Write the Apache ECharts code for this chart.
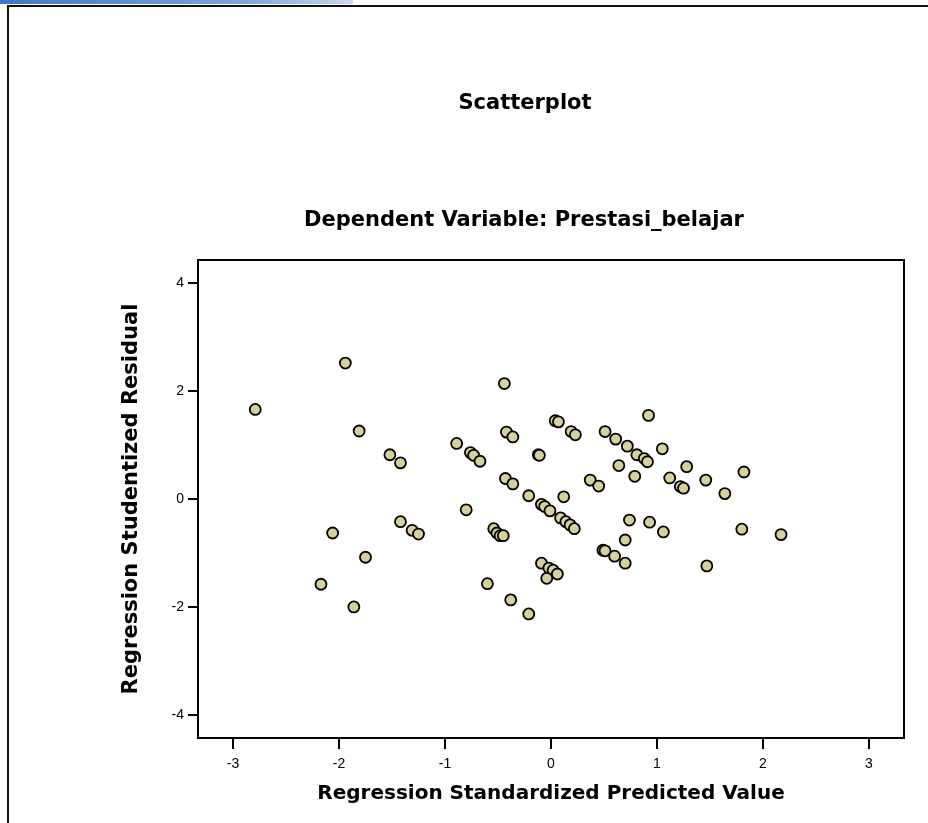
<!DOCTYPE html>
<html>
<head>
<meta charset="utf-8">
<script src="https://cdn.jsdelivr.net/npm/echarts@6/dist/echarts.min.js"></script>
<style>
  html, body { margin: 0; padding: 0; background: #fff; }
  #main { width: 928px; height: 823px; }
</style>
</head>
<body>
<div id="main"></div>
<script>
  // regression standardized predicted value (x) / studentized residual (y)
  var predicted = [
    -1.94, -2.79, -1.81, -2.06, -1.75, -2.17, -1.86,
    -0.44, -0.42, -0.36, -1.52, -1.42, -0.89, -0.76, -0.73, -0.67, -0.43, -0.36, -0.21,
    -1.42, -1.31, -1.25, -0.80, -0.54, -0.51, -0.48, -0.45, -0.60, -0.38, -0.21,
    0.04, 0.07, 0.19, 0.23, -0.12, -0.11, 0.51, 0.61, 0.72, 0.81, 0.88, 0.91, 0.92, 1.05,
    0.64, 0.79, 0.37, 0.45, 0.12, -0.09, -0.06, -0.01, 0.09, 0.14, 0.18, 0.22,
    0.74, 0.93, 1.06, 0.70, 0.49, 0.51, 0.60, 0.70, -0.09, -0.02, 0.02, 0.06, -0.04,
    1.28, 1.12, 1.22, 1.25, 1.46, 1.64, 1.82, 1.80, 2.17, 1.47
  ];
  var residual = [
    2.52, 1.66, 1.26, -0.63, -1.08, -1.58, -2.00,
    2.14, 1.24, 1.15, 0.82, 0.67, 1.03, 0.86, 0.81, 0.70, 0.38, 0.28, 0.06,
    -0.42, -0.58, -0.65, -0.20, -0.55, -0.63, -0.68, -0.68, -1.57, -1.87, -2.13,
    1.45, 1.43, 1.25, 1.19, 0.82, 0.81, 1.25, 1.11, 0.98, 0.82, 0.75, 0.69, 1.55, 0.93,
    0.62, 0.42, 0.35, 0.24, 0.04, -0.10, -0.14, -0.22, -0.35, -0.42, -0.48, -0.55,
    -0.39, -0.43, -0.61, -0.76, -0.95, -0.96, -1.06, -1.19, -1.19, -1.28, -1.32, -1.39, -1.47,
    0.60, 0.39, 0.23, 0.20, 0.35, 0.10, 0.50, -0.56, -0.66, -1.24
  ];
  var xTicks = [-3, -2, -1, 0, 1, 2, 3];
  var yTicks = [-4, -2, 0, 2, 4];

  var points = predicted.map(function (v, i) { return [v, residual[i]]; });

  var myChart = echarts.init(document.getElementById('main'));
  var titleFont = 'DejaVu Sans, Verdana, sans-serif';
  var tickFont = 'Liberation Sans, Arial, sans-serif';

  myChart.setOption({
    animation: false,
    backgroundColor: '#fff',
    // 标题
    title: [
      {
        text: 'Scatterplot',
        left: 520, top: 88, textAlign: 'center',
        textStyle: { fontFamily: titleFont, fontSize: 21, fontWeight: 'bold', color: '#000' }
      },
      {
        text: 'Dependent Variable: Prestasi_belajar',
        left: 519, top: 205, textAlign: 'center',
        textStyle: { fontFamily: titleFont, fontSize: 21, fontWeight: 'bold', color: '#000' }
      }
    ],
    // 外框 + 左上角蓝条
    graphic: [
      {
        type: 'rect', shape: { x: 0, y: 0, width: 353, height: 4 },
        style: {
          fill: new echarts.graphic.LinearGradient(0, 0, 1, 0, [
            { offset: 0, color: '#3f78c8' },
            { offset: 0.7, color: '#7fa6da' },
            { offset: 1, color: '#c9d8ec' }
          ])
        }
      },
      {
        type: 'polyline',
        shape: { points: [[8, 823], [8, 6], [928, 6]] },
        style: { stroke: '#111', lineWidth: 2, fill: null }
      }
    ],
    grid: {
      left: 198, top: 260, width: 706, height: 478,
      show: true, borderColor: '#000', borderWidth: 2,
      containLabel: false
    },
    xAxis: {
      type: 'value',
      min: -3.33, max: 3.33,
      name: 'Regression Standardized Predicted Value',
      nameLocation: 'middle', nameGap: 46,
      nameTextStyle: { fontFamily: titleFont, fontSize: 20, fontWeight: 'bold', color: '#000' },
      axisLine: { show: true, onZero: false, lineStyle: { color: '#000', width: 2 } },
      axisTick: { show: true, length: 11, customValues: xTicks, lineStyle: { color: '#000', width: 2 } },
      axisLabel: { customValues: xTicks, fontFamily: tickFont, fontSize: 14, color: '#000', margin: 19 },
      splitLine: { show: false }
    },
    yAxis: {
      type: 'value',
      min: -4.43, max: 4.43,
      name: 'Regression Studentized Residual',
      nameLocation: 'middle', nameGap: 56,
      nameTextStyle: { fontFamily: titleFont, fontSize: 21, fontWeight: 'bold', color: '#000' },
      axisLine: { show: true, onZero: false, lineStyle: { color: '#000', width: 2 } },
      axisTick: { show: true, length: 10, customValues: yTicks, lineStyle: { color: '#000', width: 2 } },
      axisLabel: { customValues: yTicks, fontFamily: tickFont, fontSize: 14, color: '#000', margin: 14 },
      splitLine: { show: false }
    },
    series: [
      {
        type: 'scatter',
        data: points,
        symbol: 'circle',
        symbolSize: 11,
        itemStyle: { color: '#d6d09c', borderColor: '#000', borderWidth: 1.8, opacity: 1 }
      }
    ]
  });
  window.onresize = myChart.resize;
</script>
</body>
</html>
